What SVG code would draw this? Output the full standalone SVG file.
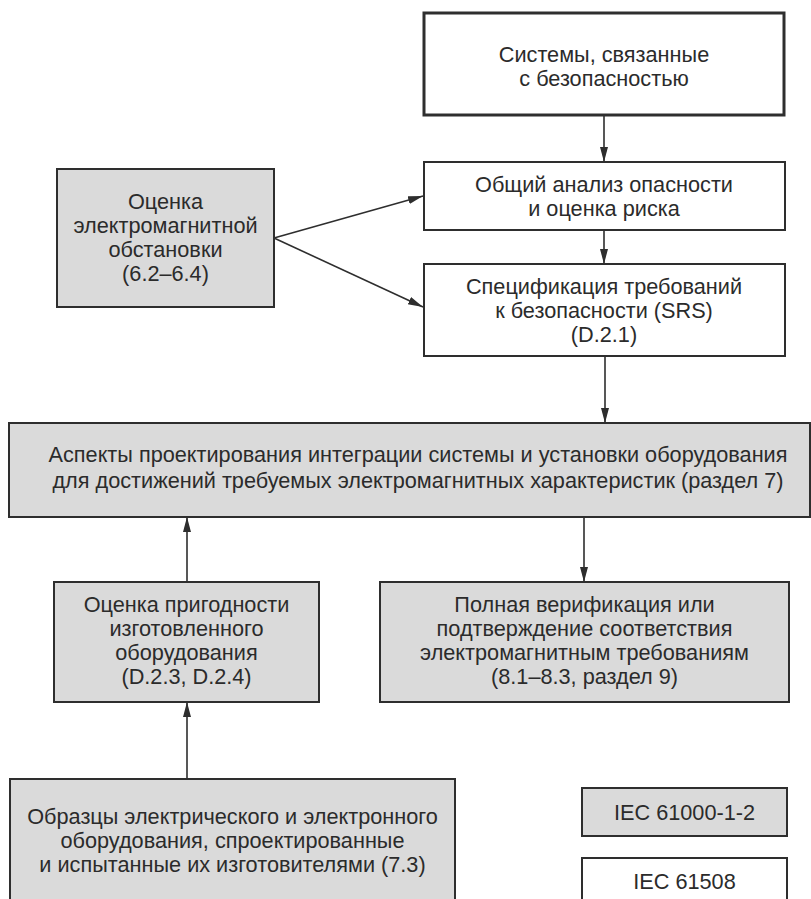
<svg xmlns="http://www.w3.org/2000/svg" width="811" height="899" viewBox="0 0 811 899">
<defs>
<style>
.box{fill:#ffffff;stroke:#2e2e2e;stroke-width:2}
.gray{fill:#dadada;stroke:#2e2e2e;stroke-width:2}
.thick{stroke-width:3}
.t{font-family:"Liberation Sans",Arial,sans-serif;font-size:21.7px;fill:#2b2b2b;text-anchor:middle}
.c{stroke:#2e2e2e;stroke-width:1.6;fill:none;marker-end:url(#ah)}
</style>
<marker id="ah" markerUnits="userSpaceOnUse" markerWidth="16" markerHeight="10" refX="15" refY="4" orient="auto">
<path d="M0,0 L15,4 L0,8 z" fill="#2e2e2e"/>
</marker>
</defs>
<rect width="811" height="899" fill="#ffffff"/>
<g id="connectors">
<line class="c" x1="604" y1="115" x2="604" y2="162"/>
<line class="c" x1="604" y1="230" x2="604" y2="264"/>
<line class="c" x1="274" y1="238" x2="423" y2="196"/>
<line class="c" x1="274" y1="238" x2="423" y2="307"/>
<line class="c" x1="605" y1="356" x2="605" y2="423"/>
<line class="c" x1="584" y1="517" x2="584" y2="582"/>
<line class="c" x1="187" y1="582" x2="187" y2="517"/>
<line class="c" x1="187" y1="779" x2="187" y2="702"/>
</g>
<g id="n_systems">
<rect class="box thick" x="424" y="13" width="360" height="102"/>
<text class="t" x="604" y="62">Системы, связанные</text>
<text class="t" x="604" y="86">с безопасностью</text>
</g>
<g id="n_hazard">
<rect class="box" x="424" y="162" width="361" height="68"/>
<text class="t" x="604" y="192">Общий анализ опасности</text>
<text class="t" x="604" y="216">и оценка риска</text>
</g>
<g id="n_srs">
<rect class="box" x="424" y="264" width="361" height="92"/>
<text class="t" x="604" y="294">Спецификация требований</text>
<text class="t" x="604" y="318">к безопасности (SRS)</text>
<text class="t" x="604" y="342">(D.2.1)</text>
</g>
<g id="n_emenv">
<rect class="gray" x="57" y="169" width="217" height="138"/>
<text class="t" x="165.5" y="209">Оценка</text>
<text class="t" x="165.5" y="233">электромагнитной</text>
<text class="t" x="165.5" y="257">обстановки</text>
<text class="t" x="165.5" y="281">(6.2–6.4)</text>
</g>
<g id="n_design">
<rect class="gray" x="9" y="423" width="801" height="94"/>
<text class="t" x="418" y="462">Аспекты проектирования интеграции системы и установки оборудования</text>
<text class="t" x="418" y="488">для достижений требуемых электромагнитных характеристик (раздел 7)</text>
</g>
<g id="n_suitability">
<rect class="gray" x="54" y="582" width="265" height="120"/>
<text class="t" x="186.5" y="612">Оценка пригодности</text>
<text class="t" x="186.5" y="636">изготовленного</text>
<text class="t" x="186.5" y="660">оборудования</text>
<text class="t" x="186.5" y="684">(D.2.3, D.2.4)</text>
</g>
<g id="n_verification">
<rect class="gray" x="380" y="582" width="409" height="120"/>
<text class="t" x="584.5" y="612">Полная верификация или</text>
<text class="t" x="584.5" y="636">подтверждение соответствия</text>
<text class="t" x="584.5" y="660">электромагнитным требованиям</text>
<text class="t" x="584.5" y="684">(8.1–8.3, раздел 9)</text>
</g>
<g id="n_samples">
<rect class="gray" x="10" y="779" width="445" height="140"/>
<text class="t" x="232.5" y="824">Образцы электрического и электронного</text>
<text class="t" x="232.5" y="848">оборудования, спроектированные</text>
<text class="t" x="232.5" y="872">и испытанные их изготовителями (7.3)</text>
</g>
<g id="n_iec61000">
<rect class="gray" x="582" y="788" width="205" height="48"/>
<text class="t" x="684.5" y="820">IEC 61000-1-2</text>
</g>
<g id="n_iec61508">
<rect class="box" x="582" y="858" width="205" height="60"/>
<text class="t" x="684.5" y="889">IEC 61508</text>
</g>
</svg>
